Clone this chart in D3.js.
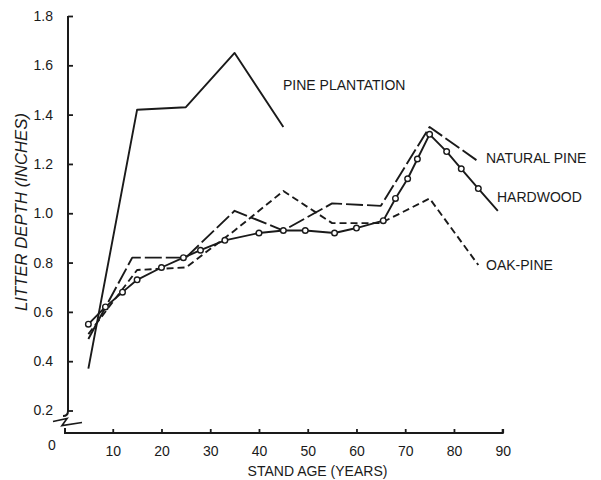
<!DOCTYPE html>
<html>
<head>
<meta charset="utf-8">
<script src="https://cdn.jsdelivr.net/npm/d3@7"></script>
<style>
    body { margin: 0; background: #fff; }
    text { font-family: "Liberation Sans", Arial, sans-serif; fill: #1a1a1a; }
    .axis line, .axis path { stroke: #1a1a1a; }
</style>
</head>
<body>
<script>
//wrap everything in a self-executing anonymous function
(function () {

//chart data
    var plantationAge = [5, 15, 25, 35, 45];
    var plantationDepth = [0.37, 1.42, 1.43, 1.65, 1.35];

    var naturalAge = [5, 14, 25, 35, 45, 55, 65, 75, 85];
    var naturalDepth = [0.49, 0.82, 0.82, 1.01, 0.93, 1.04, 1.03, 1.35, 1.21];

    var oakPineAge = [5, 15, 25, 35, 45, 55, 65, 75, 85];
    var oakPineDepth = [0.51, 0.77, 0.78, 0.93, 1.09, 0.96, 0.96, 1.06, 0.79];

    var hardwoodAge = [5, 8.5, 12, 15, 20, 24.5, 28, 33, 40, 45, 49.5, 55.5, 60, 65.5, 68, 70.5, 72.5, 75, 78.5, 81.5, 85, 89];
    var hardwoodDepth = [0.55, 0.62, 0.68, 0.73, 0.78, 0.82, 0.85, 0.89, 0.92, 0.93, 0.93, 0.92, 0.94, 0.97, 1.06, 1.14, 1.22, 1.32, 1.25, 1.18, 1.10, 1.01];

    var xTicks = [10, 20, 30, 40, 50, 60, 70, 80, 90];
    var yTicks = [0.2, 0.4, 0.6, 0.8, 1.0, 1.2, 1.4, 1.6, 1.8];

    var width = 601,
        height = 480,
        ink = "#1a1a1a";

    var xScale = d3.scaleLinear()
        .domain([0, 90])
        .range([64, 502.7]);

    var yScale = d3.scaleLinear()
        .domain([0.2, 1.8])
        .range([410.5, 16]);

    var svg = d3.select("body")
        .append("svg")
        .attr("width", width)
        .attr("height", height);

    //zip age/depth lists into point objects
    function zip(ages, depths) {
        return ages.map(function (a, i) {
            return {age: a, depth: depths[i]};
        });
    };

    var line = d3.line()
        .x(function (d) { return xScale(d.age); })
        .y(function (d) { return yScale(d.depth); });

    //y axis: ticks point inward, labels on the left
    var yAxis = d3.axisLeft(yScale)
        .tickValues(yTicks)
        .tickFormat(d3.format(".1f"))
        .tickSizeInner(-5)
        .tickSizeOuter(0)
        .tickPadding(15);

    var yG = svg.append("g")
        .attr("class", "axis")
        .attr("transform", "translate(68,0)")
        .call(yAxis);
    yG.select(".domain").remove();
    yG.selectAll("line").attr("stroke-width", 1.8);
    yG.selectAll("text")
        .attr("font-size", 14)
        .attr("font-family", "Liberation Sans")
        .attr("fill", ink);

    //x axis: small upward ticks
    var xAxis = d3.axisBottom(xScale)
        .tickValues(xTicks)
        .tickSizeInner(-4)
        .tickSizeOuter(0)
        .tickPadding(13);

    var xG = svg.append("g")
        .attr("class", "axis")
        .attr("transform", "translate(0,433)")
        .call(xAxis);
    xG.select(".domain").remove();
    xG.selectAll("line").attr("stroke-width", 1.8);
    xG.selectAll("text")
        .attr("font-size", 14)
        .attr("font-family", "Liberation Sans")
        .attr("fill", ink);

    //axis lines with the broken y axis near zero
    var axisPath = d3.path();
    axisPath.moveTo(68, yScale(1.8));
    axisPath.lineTo(68, 411);
    axisPath.quadraticCurveTo(68, 416, 63, 416);
    svg.append("path")
        .attr("d", axisPath.toString())
        .attr("fill", "none")
        .attr("stroke", ink)
        .attr("stroke-width", 2);

    svg.append("path")
        .attr("d", "M53,421.5 L67,418.5 L62,425.5 L82,422.5")
        .attr("fill", "none")
        .attr("stroke", ink)
        .attr("stroke-width", 1.7);

    svg.append("path")
        .attr("d", "M65,428 L65,433 L" + xScale(90) + ",433 L" + xScale(90) + ",429")
        .attr("fill", "none")
        .attr("stroke", ink)
        .attr("stroke-width", 2);

    svg.append("text")
        .attr("x", 52)
        .attr("y", 450)
        .attr("text-anchor", "middle")
        .attr("font-size", 14)
        .text("0");

    //axis titles
    svg.append("text")
        .attr("transform", "translate(27,212) rotate(-90)")
        .attr("text-anchor", "middle")
        .attr("font-size", 16)
        .attr("font-style", "italic")
        .attr("textLength", 198)
        .attr("lengthAdjust", "spacingAndGlyphs")
        .text("LITTER DEPTH (INCHES)");

    svg.append("text")
        .attr("x", 317.5)
        .attr("y", 476)
        .attr("text-anchor", "middle")
        .attr("font-size", 14)
        .text("STAND AGE (YEARS)");

    //series lines
    var series = [
        {name: "plantation", data: zip(plantationAge, plantationDepth), dash: null},
        {name: "natural", data: zip(naturalAge, naturalDepth), dash: "17,4"},
        {name: "oakpine", data: zip(oakPineAge, oakPineDepth), dash: "7,4"},
        {name: "hardwood", data: zip(hardwoodAge, hardwoodDepth), dash: null}
    ];

    svg.selectAll(".series")
        .data(series)
        .enter()
        .append("path")
        .attr("class", function (d) { return "series " + d.name; })
        .attr("d", function (d) { return line(d.data); })
        .attr("fill", "none")
        .attr("stroke", ink)
        .attr("stroke-width", 1.9)
        .attr("stroke-linejoin", "round")
        .attr("stroke-dasharray", function (d) { return d.dash; });

    //open circles on the hardwood curve (last point has none)
    svg.selectAll(".dot")
        .data(series[3].data.slice(0, -1))
        .enter()
        .append("circle")
        .attr("class", "dot")
        .attr("cx", function (d) { return xScale(d.age); })
        .attr("cy", function (d) { return yScale(d.depth); })
        .attr("r", 2.8)
        .attr("fill", "#fff")
        .attr("stroke", ink)
        .attr("stroke-width", 1.4);

    //series labels
    var labels = [
        {text: "PINE PLANTATION", x: 283, y: 90},
        {text: "NATURAL PINE", x: 486, y: 163},
        {text: "HARDWOOD", x: 497, y: 202},
        {text: "OAK-PINE", x: 486, y: 270}
    ];

    svg.selectAll(".label")
        .data(labels)
        .enter()
        .append("text")
        .attr("class", "label")
        .attr("x", function (d) { return d.x; })
        .attr("y", function (d) { return d.y; })
        .attr("font-size", 14)
        .text(function (d) { return d.text; });

})();
</script>
</body>
</html>
